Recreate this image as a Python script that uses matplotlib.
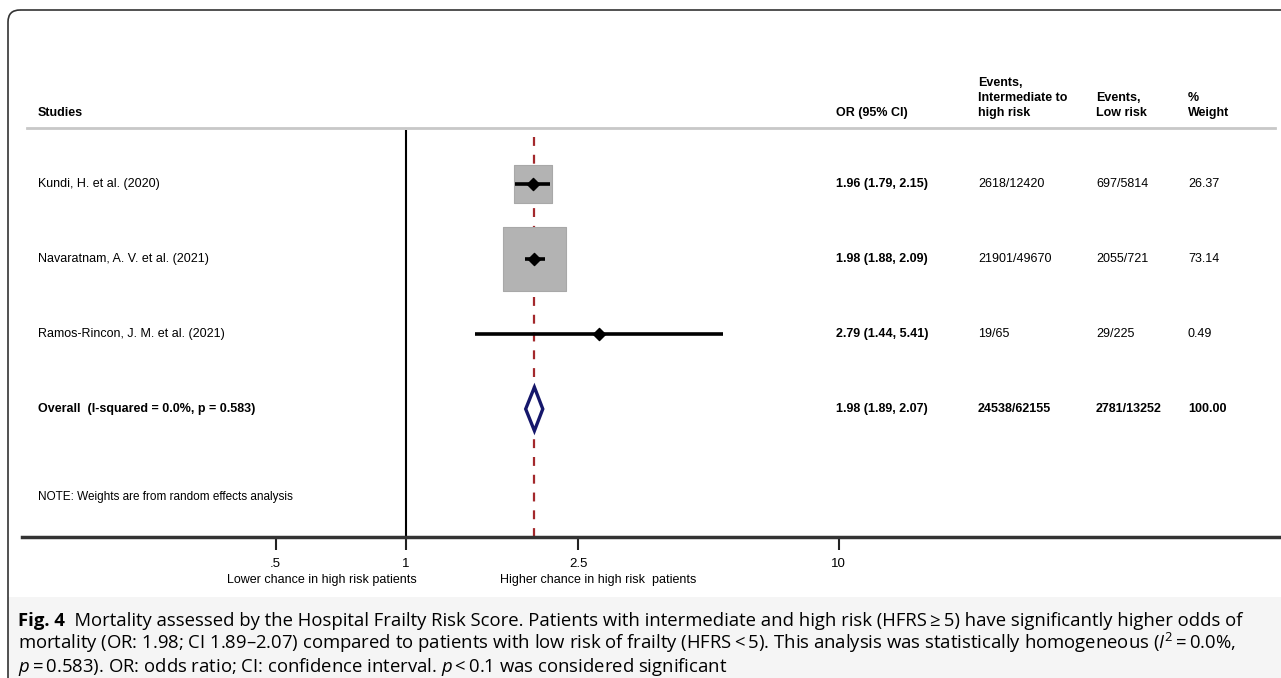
import matplotlib.pyplot as plt
import numpy as np
import matplotlib.transforms as mtrans
from matplotlib.patches import FancyBboxPatch, Rectangle, Polygon

plt.rcParams['font.family'] = ['Liberation Sans', 'DejaVu Sans']
plt.rcParams['mathtext.fontset'] = 'custom'
plt.rcParams['mathtext.it'] = 'Open Sans:italic'
plt.rcParams['mathtext.rm'] = 'Open Sans'

studies = ["Kundi, H. et al. (2020)", "Navaratnam, A. V. et al. (2021)",
           "Ramos-Rincon, J. M. et al. (2021)"]
odds = [1.96, 1.98, 2.79]
ci_low = [1.79, 1.88, 1.44]
ci_high = [2.15, 2.09, 5.41]
events_high = ["2618/12420", "21901/49670", "19/65"]
events_low = ["697/5814", "2055/721", "29/225"]
weights = [26.37, 73.14, 0.49]

overall_label = "Overall  (I-squared = 0.0%, p = 0.583)"
overall_or, overall_low, overall_high = 1.98, 1.89, 2.07
overall_high_ev = "24538/62155"
overall_low_ev = "2781/13252"
overall_weight = 100.00

xticks = [0.5, 1, 2.5, 10]
xtick_labels = [".5", "1", "2.5", "10"]

W, H = 1281, 678
fig = plt.figure(figsize=(W / 100, H / 100), dpi=100)

# overlay in pixel coords for the frame, headers and caption
bg = fig.add_axes([0, 0, 1, 1])
bg.set_xlim(0, W)
bg.set_ylim(H, 0)
bg.axis('off')

bg.add_patch(Rectangle((8, 597), W, 90, facecolor='#f5f5f5', edgecolor='none'))
bg.add_patch(FancyBboxPatch((8, 10), W + 40, H + 40, boxstyle="round,pad=0,rounding_size=12",
                            facecolor='none', edgecolor='#333333', lw=1.2))

# forest plot axes, log scale: 1 sits at x=406px, 188px per ln unit
px_per_ln = 188.0
one_px = 406
x0, x1 = 22, W
y_top, y_bot = 130, 537
ax = fig.add_axes([x0 / W, 1 - y_bot / H, (x1 - x0) / W, (y_bot - y_top) / H])
ax.set_xscale('log')
ax.set_xlim(np.exp((x0 - one_px) / px_per_ln), np.exp((x1 - one_px) / px_per_ln))
row_px = 75.0
ax.set_ylim(1 + (y_bot - 184) / row_px, 1 + (y_top - 184) / row_px)
ax.patch.set_alpha(0)
for s in ['top', 'right', 'left']:
    ax.spines[s].set_visible(False)
ax.spines['bottom'].set_color('#333333')
ax.spines['bottom'].set_linewidth(2.5)
ax.set_yticks([])
ax.set_xticks(xticks)
ax.set_xticklabels(xtick_labels, fontsize=9.5)
ax.minorticks_off()
ax.tick_params(axis='x', length=9, width=1.5, color='#222222', pad=6)

rows = np.arange(1, len(studies) + 1)
ax.axvline(1, color='black', lw=1.5)
ax.axvline(overall_or, color='#a3282c', lw=1.6, dashes=(4, 4))

ax.scatter(odds, rows, s=np.array(weights) * 28.4, marker='s', color='#b3b3b3',
           edgecolors='#a8a8a8', linewidths=0.8, zorder=2)
ax.hlines(rows, ci_low, ci_high, color='black', lw=2.6, zorder=3)
ax.scatter(odds, rows, s=38, marker='D', color='black', zorder=4)

r_ov = len(studies) + 1
ax.add_patch(Polygon([[overall_low, r_ov], [overall_or, r_ov - 0.29],
                      [overall_high, r_ov], [overall_or, r_ov + 0.29]],
                     closed=True, facecolor='white', edgecolor='#15176b', lw=2.4, zorder=4))

# header
bg.plot([27, 1275], [128, 128], color='#c8c8c8', lw=2)
hdr = dict(fontsize=9, fontweight='bold', va='center', ha='left')
bg.text(38, 113, "Studies", **hdr)
bg.text(836, 113, "OR (95% CI)", **hdr)
bg.text(978, 83, "Events,", **hdr)
bg.text(978, 98, "Intermediate to", **hdr)
bg.text(978, 113, "high risk", **hdr)
bg.text(1096, 98, "Events,", **hdr)
bg.text(1096, 113, "Low risk", **hdr)
bg.text(1188, 98, "%", **hdr)
bg.text(1188, 113, "Weight", **hdr)

# row texts: x in pixels, y in data rows
tr = mtrans.blended_transform_factory(bg.transData, ax.transData)
for i, r in enumerate(rows):
    bg.text(38, r, studies[i], transform=tr, fontsize=9, va='center')
    bg.text(836, r, f"{odds[i]:.2f} ({ci_low[i]:.2f}, {ci_high[i]:.2f})", transform=tr,
            fontsize=9, fontweight='bold', va='center')
    bg.text(978, r, events_high[i], transform=tr, fontsize=9, va='center')
    bg.text(1096, r, events_low[i], transform=tr, fontsize=9, va='center')
    bg.text(1188, r, f"{weights[i]:.2f}", transform=tr, fontsize=9, va='center')

bold = dict(transform=tr, fontsize=9, fontweight='bold', va='center')
bg.text(38, r_ov, overall_label, **bold)
bg.text(836, r_ov, f"{overall_or:.2f} ({overall_low:.2f}, {overall_high:.2f})", **bold)
bg.text(978, r_ov, overall_high_ev, **bold)
bg.text(1096, r_ov, overall_low_ev, **bold)
bg.text(1188, r_ov, f"{overall_weight:.2f}", **bold)

bg.text(38, r_ov + 1 + (497 - 484) / row_px, "NOTE: Weights are from random effects analysis",
        transform=tr, fontsize=8.5, va='center')

bg.text(322, 580, "Lower chance in high risk patients", fontsize=9, ha='center', va='center')
bg.text(598, 580, "Higher chance in high risk  patients", fontsize=9, ha='center', va='center')

# caption
cap_font = ['Open Sans', 'DejaVu Sans']
cap = dict(fontsize=13.3, va='baseline', family=cap_font)
t1 = bg.text(18, 626, "Fig. 4", fontweight='bold', **cap)
bg.annotate("  Mortality assessed by the Hospital Frailty Risk Score. Patients with intermediate "
            "and high risk (HFRS\u2009\u2265\u20095) have significantly higher odds of",
            xy=(1, 0), xycoords=t1, va='bottom', fontsize=13.3, family=cap_font)
bg.text(18, 649, "mortality (OR: 1.98; CI 1.89\u20132.07) compared to patients with low risk of frailty "
        "(HFRS\u2009<\u20095). This analysis was statistically homogeneous ($I^{2}$\u2009=\u20090.0%,", **cap)
bg.text(18, 672, "$p$\u2009=\u20090.583). OR: odds ratio; CI: confidence interval. $p$\u2009<\u20090.1 "
        "was considered significant", **cap)

fig.savefig("out.png", dpi=100)
